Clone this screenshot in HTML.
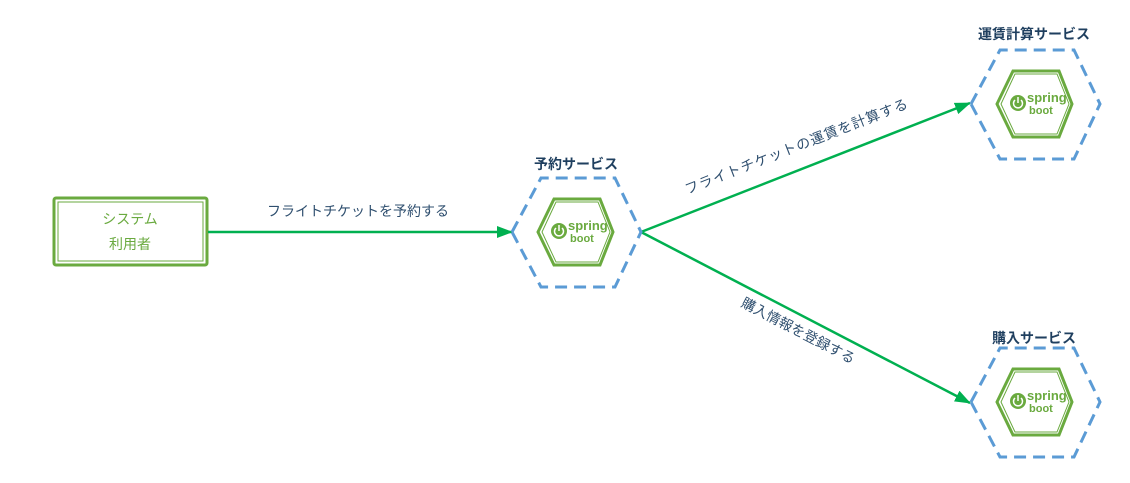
<!DOCTYPE html>
<html><head><meta charset="utf-8"><style>
html,body{margin:0;padding:0;background:#fff;}
svg{display:block;font-family:"Liberation Sans","Noto Sans CJK JP",sans-serif;}
</style></head><body>
<svg width="1130" height="483" viewBox="0 0 1130 483" xmlns="http://www.w3.org/2000/svg">
<defs>
<g id="hex">
<polygon points="512,232 541,178 615,178 641,232 615,287 541,287" fill="none" stroke="#5b9bd5" stroke-width="3" stroke-dasharray="12,7"/>
<polygon points="538,232 554,199 600,199 613,232 600,265 554,265" fill="#fff" stroke="#6aaa3f" stroke-width="3"/>
<polygon points="542,232 556,202 598,202 610,232 598,262 556,262" fill="none" stroke="#6aaa3f" stroke-width="1"/>
<circle cx="559" cy="231" r="8" fill="#6aaa3f"/>
<path d="M556,228 a4.5,4.5 0 1 0 6,0" fill="none" stroke="#fff" stroke-width="1.5"/>
<line x1="559" y1="225" x2="559" y2="231" stroke="#fff" stroke-width="1.5"/>
<text x="568" y="230" font-size="13" font-weight="bold" fill="#6aaa3f">spring</text>
<text x="570" y="242" font-size="11" font-weight="bold" fill="#6aaa3f">boot</text>
</g>
<marker id="ar" markerWidth="16" markerHeight="12" refX="15" refY="6" orient="auto" markerUnits="userSpaceOnUse"><path d="M0,0 L16,6 L0,12 z" fill="#00b050"/></marker>
</defs>
<rect x="54" y="198" width="153" height="67" rx="2" fill="#fff" stroke="#6aaa3f" stroke-width="3"/>
<rect x="58" y="202" width="145" height="59" fill="none" stroke="#6aaa3f" stroke-width="1"/>
<text x="130" y="224" font-size="14" fill="#6aaa3f" text-anchor="middle">システム</text>
<text x="130" y="249" font-size="14" fill="#6aaa3f" text-anchor="middle">利用者</text>
<line x1="208" y1="232" x2="512" y2="232" stroke="#00b050" stroke-width="2.5" marker-end="url(#ar)"/>
<line x1="641" y1="232" x2="970" y2="103" stroke="#00b050" stroke-width="2.5" marker-end="url(#ar)"/>
<line x1="641" y1="232" x2="970" y2="403" stroke="#00b050" stroke-width="2.5" marker-end="url(#ar)"/>
<text x="358" y="216" font-size="14" fill="#2f4f6f" text-anchor="middle">フライトチケットを予約する</text>
<text transform="translate(798,151) rotate(-21.4)" font-size="14" fill="#2f4f6f" text-anchor="middle" textLength="238">フライトチケットの運賃を計算する</text>
<text transform="translate(796,335) rotate(27.5)" font-size="14" fill="#2f4f6f" text-anchor="middle">購入情報を登録する</text>
<use href="#hex"/>
<use href="#hex" transform="translate(459,-128)"/>
<use href="#hex" transform="translate(459,170)"/>
<text x="576" y="169" font-size="14" font-weight="bold" fill="#1f3f5f" text-anchor="middle">予約サービス</text>
<text x="1034" y="39" font-size="14" font-weight="bold" fill="#1f3f5f" text-anchor="middle">運賃計算サービス</text>
<text x="1034" y="343" font-size="14" font-weight="bold" fill="#1f3f5f" text-anchor="middle">購入サービス</text>
</svg>
</body></html>
